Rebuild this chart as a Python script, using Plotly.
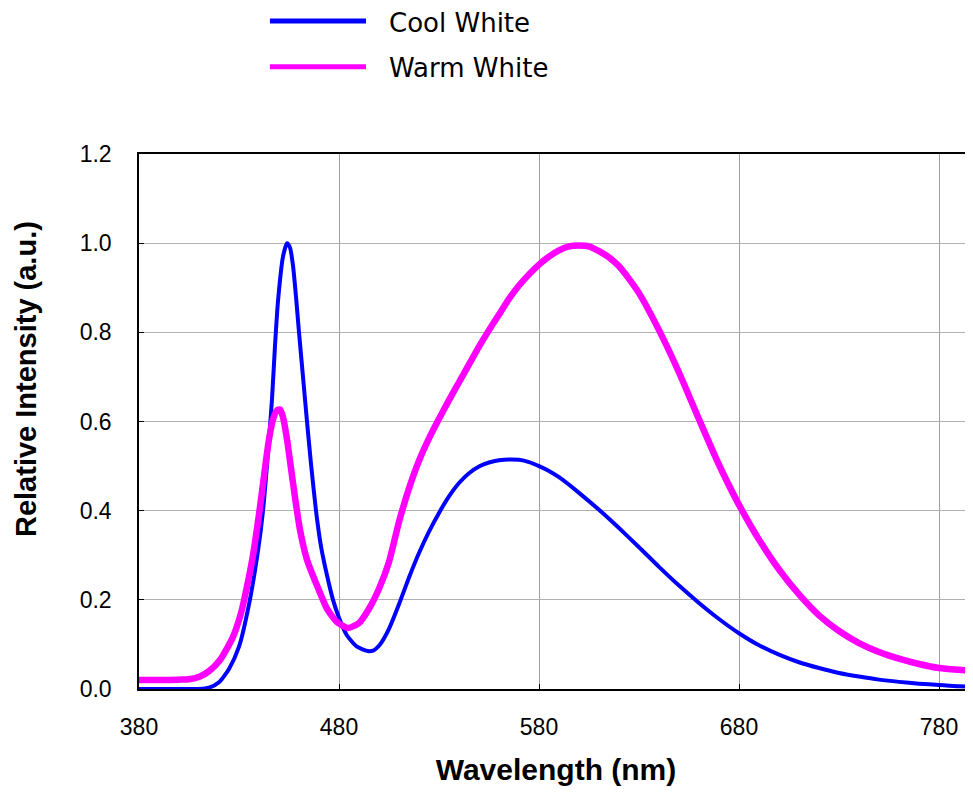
import plotly.graph_objects as go

# ---- data ----
series_names = ["Cool White", "Warm White"]
series_colors = ["#0000FF", "#FF00FF"]
x_title = "Wavelength (nm)"
y_title = "Relative Intensity (a.u.)"

wl_cool = [380, 400, 410, 415, 420, 425, 430, 435, 439.5, 442, 444.5, 446.5, 448, 449.5,
           452, 454, 455.5, 457, 458.5, 460, 462, 464, 466, 468.5, 471, 474, 477, 480,
           484, 489, 494.5, 497, 500.5, 505, 510, 515, 520, 525, 530, 535, 540, 545, 550,
           555, 560, 565, 570, 575, 580, 585, 590, 600, 610, 620, 630, 640, 650, 660, 670,
           680, 690, 700, 710, 720, 730, 740, 750, 760, 770, 780, 790, 797]
cool = [0, 0, 0, 0.003, 0.015, 0.045, 0.095, 0.19, 0.31, 0.40, 0.53, 0.65, 0.77, 0.87,
        0.97, 1.0, 0.99, 0.95, 0.88, 0.80, 0.70, 0.60, 0.505, 0.40, 0.32, 0.255, 0.20, 0.16,
        0.12, 0.095, 0.085, 0.086, 0.10, 0.135, 0.19, 0.25, 0.305, 0.353, 0.395, 0.432,
        0.462, 0.484, 0.499, 0.508, 0.513, 0.515, 0.514, 0.509, 0.50, 0.489, 0.475, 0.44,
        0.402, 0.361, 0.318, 0.274, 0.232, 0.193, 0.157, 0.125, 0.098, 0.077, 0.06, 0.047,
        0.036, 0.028, 0.021, 0.016, 0.012, 0.009, 0.006, 0.005]

wl_warm = [380, 390, 400, 405, 410.5, 415, 420.5, 427, 431, 434, 437, 439, 441, 443, 445,
           447, 449, 450.5, 452, 454, 456, 458, 460.5, 464, 469, 474, 479, 484.5, 490, 495,
           500, 505, 510, 515, 520, 525, 530, 535, 540, 545, 550, 555, 560, 565, 570, 575,
           580, 585, 590, 595, 600, 605, 610, 615, 620, 625, 630, 640, 650, 660, 670, 680,
           690, 700, 710, 720, 730, 740, 750, 760, 770, 780, 790, 797]
warm = [0.02, 0.02, 0.021, 0.022, 0.028, 0.04, 0.065, 0.117, 0.17, 0.23, 0.30, 0.36, 0.425,
        0.495, 0.56, 0.605, 0.625, 0.627, 0.61, 0.56, 0.495, 0.43, 0.357, 0.29, 0.232, 0.18,
        0.15, 0.137, 0.148, 0.18, 0.225, 0.285, 0.375, 0.45, 0.512, 0.562, 0.606, 0.648,
        0.688, 0.728, 0.768, 0.805, 0.84, 0.875, 0.905, 0.93, 0.952, 0.97, 0.984, 0.993,
        0.995, 0.993, 0.982, 0.968, 0.948, 0.92, 0.888, 0.805, 0.71, 0.605, 0.503, 0.413,
        0.335, 0.268, 0.212, 0.165, 0.13, 0.103, 0.083, 0.068, 0.056, 0.047, 0.043, 0.041]

x_ticks = [380, 480, 580, 680, 780]
y_ticks = [0.0, 0.2, 0.4, 0.6, 0.8, 1.0, 1.2]
y_tick_labels = ["0.0", "0.2", "0.4", "0.6", "0.8", "1.0", "1.2"]

fig = go.Figure()
fig.add_trace(go.Scatter(x=wl_cool, y=cool, mode="lines", name=series_names[0],
                         line=dict(color=series_colors[0], width=4, shape="spline", smoothing=0.6),
                         showlegend=False))
fig.add_trace(go.Scatter(x=wl_warm, y=warm, mode="lines", name=series_names[1],
                         line=dict(color=series_colors[1], width=6.5, shape="spline", smoothing=0.6),
                         showlegend=False))

# custom legend (long line samples like the reference)
leg_line_y = [1.2486, 1.163]
leg_text_y = [1.2448, 1.161]
for name, color, ly, ty in zip(series_names, series_colors, leg_line_y, leg_text_y):
    fig.add_shape(type="line", xref="paper", yref="paper", x0=0.157, x1=0.2722, y0=ly, y1=ly,
                  line=dict(color=color, width=5))
    fig.add_annotation(xref="paper", yref="paper", x=0.2986, y=ty, text=name, showarrow=False,
                       xanchor="left", yanchor="middle", borderpad=0,
                       font=dict(family="DejaVu Sans", size=26, color="#000000"))

# y-axis title (placed above centre, as in the reference)
fig.add_annotation(xref="paper", yref="paper", x=-0.1355, y=0.5794, text="<b>" + y_title + "</b>",
                   textangle=-90, showarrow=False, xanchor="center", yanchor="middle",
                   font=dict(family="Liberation Sans, Arial", size=29, color="#000000"))

fig.update_layout(
    width=965, height=778,
    margin=dict(l=131, r=0, t=146, b=97),
    paper_bgcolor="white", plot_bgcolor="white",
    font=dict(family="Liberation Sans, Arial", color="#000000"),
    showlegend=False,
)
fig.update_xaxes(
    range=[380, 797], tickvals=x_ticks, ticktext=[str(v) for v in x_ticks],
    showgrid=True, gridcolor="#a0a0a0", gridwidth=1,
    showline=True, linecolor="#000000", linewidth=1.5, mirror=True,
    ticks="inside", ticklen=5, tickcolor="#000000",
    tickfont=dict(family="Liberation Sans, Arial", size=23),
    ticklabelstandoff=17,
    zeroline=False,
    title=dict(text="<b>" + x_title + "</b>", font=dict(family="Liberation Sans, Arial", size=30),
               standoff=23),
)
fig.update_yaxes(
    range=[0, 1.2], tickvals=y_ticks, ticktext=y_tick_labels,
    showgrid=True, gridcolor="#b0b0b0", gridwidth=1,
    showline=True, linecolor="#000000", linewidth=1.5, mirror=False,
    ticks="inside", ticklen=5, tickcolor="#000000",
    tickfont=dict(family="Liberation Sans, Arial", size=23),
    ticklabelstandoff=21,
    zeroline=False,
)

fig.write_html("out.html")
